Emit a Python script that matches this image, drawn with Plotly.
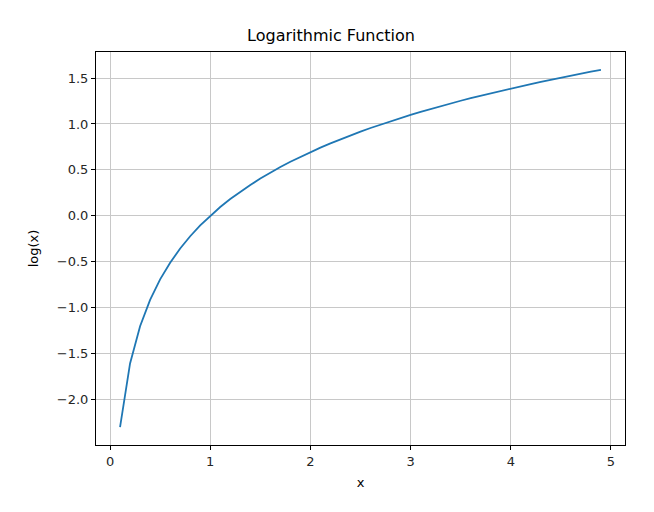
import plotly.graph_objects as go

# x samples and log(x) values
x_vals = [0.1, 0.2, 0.3, 0.4, 0.5, 0.6, 0.7, 0.8, 0.9, 1.0,
          1.1, 1.2, 1.3, 1.4, 1.5, 1.6, 1.7, 1.8, 1.9, 2.0,
          2.1, 2.2, 2.3, 2.4, 2.5, 2.6, 2.7, 2.8, 2.9, 3.0,
          3.1, 3.2, 3.3, 3.4, 3.5, 3.6, 3.7, 3.8, 3.9, 4.0,
          4.1, 4.2, 4.3, 4.4, 4.5, 4.6, 4.7, 4.8, 4.9]
y_vals = [-2.303, -1.609, -1.204, -0.916, -0.693, -0.511, -0.357, -0.223, -0.105, 0.000,
          0.095, 0.182, 0.262, 0.336, 0.405, 0.470, 0.531, 0.588, 0.642, 0.693,
          0.742, 0.788, 0.833, 0.875, 0.916, 0.956, 0.993, 1.030, 1.065, 1.099,
          1.131, 1.163, 1.194, 1.224, 1.253, 1.281, 1.308, 1.335, 1.361, 1.386,
          1.411, 1.435, 1.459, 1.482, 1.504, 1.526, 1.548, 1.569, 1.589]

x_ticks = [0, 1, 2, 3, 4, 5]
y_ticks = [-2.0, -1.5, -1.0, -0.5, 0.0, 0.5, 1.0, 1.5]

fig = go.Figure()
fig.add_trace(go.Scatter(x=x_vals, y=y_vals, mode="lines",
                         line=dict(color="#1f77b4", width=1.8)))

axis_common = dict(showline=True, linecolor="black", linewidth=1, mirror=True,
                   ticks="outside", ticklen=4, tickcolor="black",
                   showgrid=True, gridcolor="#c8c8c8", gridwidth=1,
                   zeroline=False, tickfont=dict(size=13, color="#262626"))

# page body adds an 8px offset, so the figure is a bit smaller than the window
fig.update_layout(
    width=646, height=504,
    paper_bgcolor="white", plot_bgcolor="white",
    font=dict(family="DejaVu Sans", color="black"),
    margin=dict(l=88, r=29, t=44, b=67),
    showlegend=False,
    title=dict(text="Logarithmic Function", x=0.5, xanchor="center",
               y=1 - 27 / 504, yanchor="middle", font=dict(size=16)),
    xaxis=dict(range=[-0.14, 5.14], tickvals=x_ticks, ticktext=[str(t) for t in x_ticks],
               title=dict(text="x", font=dict(size=13), standoff=10), **axis_common),
    yaxis=dict(range=[-2.497, 1.784], tickvals=y_ticks, tickformat=".1f",
               title=dict(text="log(x)", font=dict(size=13), standoff=15), **axis_common),
)

fig.write_html("out.html")
